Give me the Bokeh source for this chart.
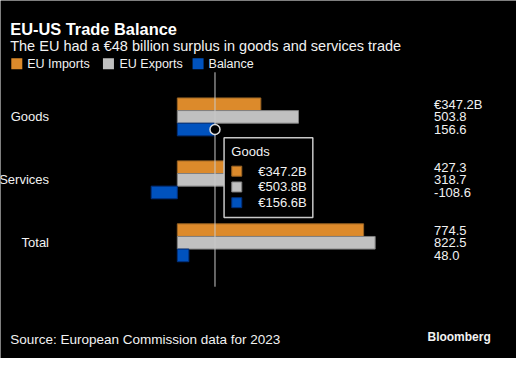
from bokeh.plotting import figure
from bokeh.models import Range1d
from bokeh.core.properties import value
from bokeh.embed import file_html
from bokeh.resources import INLINE

# ---- data ----
categories = ["Goods", "Services", "Total"]
eu_imports = [347.2, 427.3, 774.5]
eu_exports = [503.8, 318.7, 822.5]
balance = [156.6, -108.6, 48.0]
series_names = ["EU Imports", "EU Exports", "Balance"]
title_text = "EU-US Trade Balance"
subtitle_text = "The EU had a \u20ac48 billion surplus in goods and services trade"
source_text = "Source: European Commission data for 2023"
brand_text = "Bloomberg"
hover_index = 0  # Goods

# ---- layout constants (reference pixel positions, scaled to the figure) ----
W, H = 516, 358
SX, SY = W / 532.0, H / 374.0
ZERO_PX = 182.3 * SX
PX_PER_UNIT = 0.248 * SX
ROW0_PX = 121.6 * SY
ROW_STEP = 65.75 * SY
BAR_H = 13.2 * SY / ROW_STEP
FS = (SX + SY) / 2.0

x_start = -ZERO_PX / PX_PER_UNIT
x_end = x_start + W / PX_PER_UNIT


def fx(rx):
    return x_start + rx * SX / PX_PER_UNIT


def fy(ry):
    return (ry * SY - ROW0_PX) / ROW_STEP


def fs(px):
    return f"{px * FS:.1f}px"


FONT = value("Liberation Sans")
WHITE = "#F2F2F2"
fills = ["#DC8A2B", "#C0C0C0", "#0052BE"]
lines = ["#9A6424", "#7F7F7F", "#002F7A"]

p = figure(width=W, height=H, x_range=Range1d(x_start, x_end),
           y_range=Range1d(fy(374), fy(0)), x_axis_type=None, y_axis_type=None,
           toolbar_location=None, output_backend="svg", min_border=0,
           background_fill_color="black", border_fill_color="black",
           outline_line_color=None)

idx = list(range(len(categories)))
all_series = [eu_imports, eu_exports, balance]
offsets = [-BAR_H, 0.0, BAR_H]

for s, vals in enumerate(all_series):
    ys = [i + offsets[s] for i in idx]
    p.hbar(y=ys, left=0, right=vals, height=BAR_H, fill_color=fills[s],
           line_color=lines[s], line_width=1)

# category labels
p.text(x=[fx(50)] * len(categories), y=idx, text=categories, text_align="right",
       text_baseline="middle", text_font=FONT, text_font_size=fs(13.5), text_color=WHITE)

# value labels
vx, vy, vt = [], [], []
for s, vals in enumerate(all_series):
    for i, v in enumerate(vals):
        vx.append(fx(447))
        vy.append(i + offsets[s])
        vt.append(f"\u20ac{v:.1f}B" if (i == 0 and s == 0) else f"{v:.1f}")
p.text(x=vx, y=vy, text=vt, text_align="left", text_baseline="middle",
       text_font=FONT, text_font_size=fs(13.5), text_color=WHITE)

# crosshair and hover point
hx = all_series[2][hover_index]
p.segment(x0=[hx], y0=[fy(75)], x1=[hx], y1=[fy(299)], line_color="#C8C8C8", line_width=1)
p.scatter(x=[hx], y=[hover_index + offsets[2]], size=10, marker="circle",
          fill_color="black", line_color="#DDDDDD", line_width=1.5)

# tooltip box
p.quad(left=[fx(230.5)], right=[fx(322)], top=[fy(143.3)], bottom=[fy(226.7)],
       fill_color="black", line_color="#C8C8C8", line_width=1.5)
p.text(x=[fx(238)], y=[fy(158)], text=[categories[hover_index]], text_align="left",
       text_baseline="middle", text_font=FONT, text_font_size=fs(13.5), text_color=WHITE)
tip_y = [fy(178.3), fy(194.8), fy(211.2)]
p.scatter(x=[fx(243.6)] * 3, y=tip_y, marker="square", size=10,
          fill_color=fills, line_color=lines, line_width=1)
tip_vals = [f"\u20ac{ser[hover_index]:.1f}B" for ser in all_series]
p.text(x=[fx(265.7)] * 3, y=tip_y, text=tip_vals, text_align="left",
       text_baseline="middle", text_font=FONT, text_font_size=fs(13.5), text_color=WHITE)

# title and subtitle
p.text(x=[fx(10)], y=[fy(30)], text=[title_text], text_align="left",
       text_baseline="alphabetic", text_font=FONT, text_font_size=fs(17),
       text_font_style="bold", text_color="white")
p.text(x=[fx(10)], y=[fy(47.5)], text=[subtitle_text], text_align="left",
       text_baseline="alphabetic", text_font=FONT, text_font_size=fs(15), text_color=WHITE)

# legend
leg_sq_x = [fx(16.8), fx(111.3), fx(203.7)]
leg_tx_x = [fx(27.5), fx(122.7), fx(214.5)]
p.scatter(x=leg_sq_x, y=[fy(66)] * 3, marker="square", size=11,
          fill_color=fills, line_color=None)
p.text(x=leg_tx_x, y=[fy(66)] * 3, text=series_names, text_align="left",
       text_baseline="middle", text_font=FONT, text_font_size=fs(13), text_color=WHITE)

# footer
p.text(x=[fx(10)], y=[fy(354.5)], text=[source_text], text_align="left",
       text_baseline="alphabetic", text_font=FONT, text_font_size=fs(14), text_color=WHITE)
p.text(x=[fx(505.5)], y=[fy(351.5)], text=[brand_text], text_align="right",
       text_baseline="alphabetic", text_font=FONT, text_font_size=fs(12.5),
       text_font_style="bold", text_color=WHITE)

open("out.html", "w").write(file_html(p, INLINE))
